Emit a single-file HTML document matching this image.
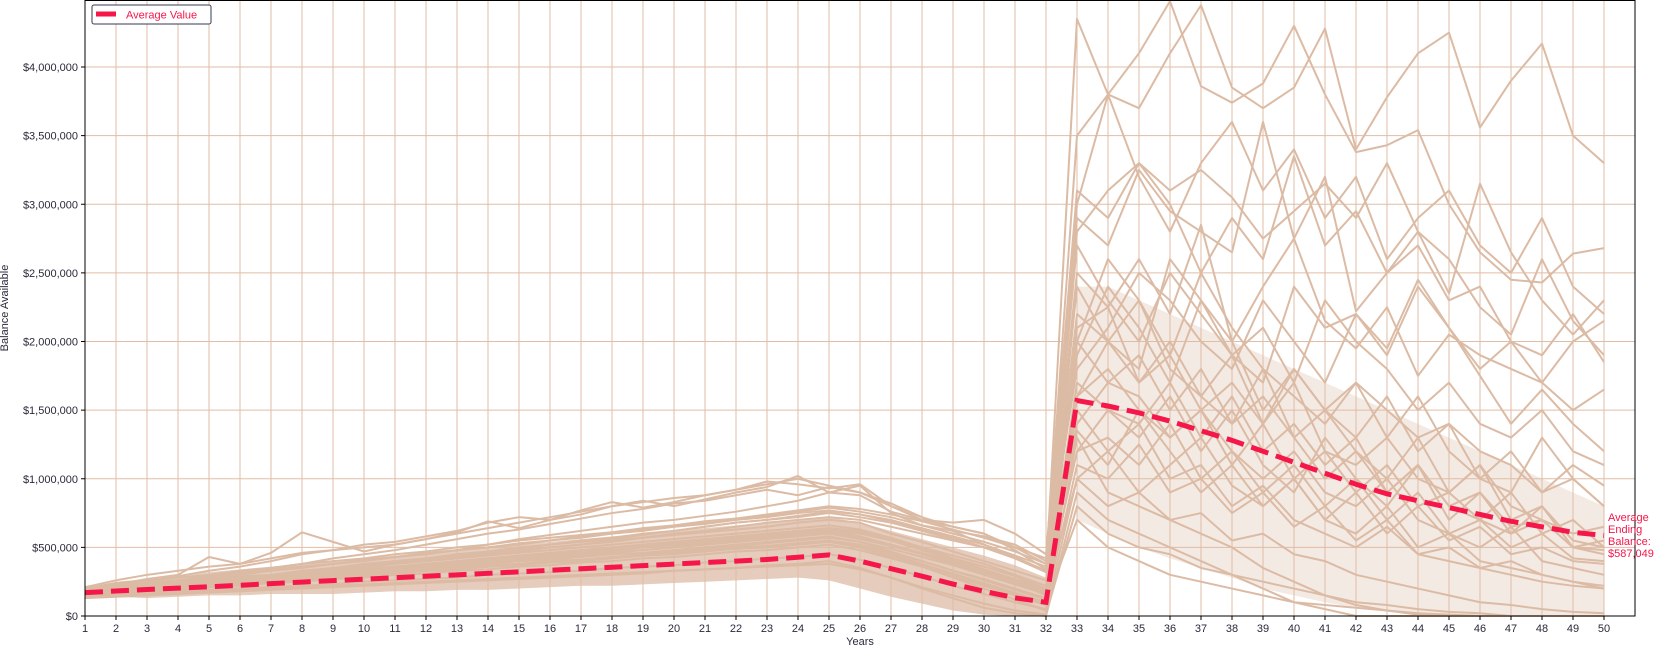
<!DOCTYPE html>
<html><head><meta charset="utf-8"><style>
html,body{margin:0;padding:0;background:#fff;}
svg{display:block;font-family:"Liberation Sans","DejaVu Sans",sans-serif;}
</style></head><body>
<svg id="chart" width="1660" height="648" viewBox="0 0 1660 648" xmlns="http://www.w3.org/2000/svg">
<g id="grid"></g>
<g id="bands"></g>
<g id="sims"></g>
<g id="avg"></g>
<g id="axes"></g>
<text x="8" y="308" font-size="11" fill="#2a2a3a" text-anchor="middle" transform="rotate(-90 8 308)">Balance Available</text>
<text x="860" y="645" font-size="11" fill="#2a2a3a" text-anchor="middle">Years</text>
<g>
<rect x="92" y="5" width="119" height="19" rx="2" fill="#fff" stroke="#3a3a50" stroke-width="1"/>
<line x1="96" y1="14" x2="116" y2="14" stroke="#f5164a" stroke-width="5"/>
<text x="126" y="18.5" font-size="11" fill="#f5164a">Average Value</text>
</g>
<g font-size="11" fill="#f5164a">
<text x="1608" y="521">Average</text><text x="1608" y="533">Ending</text><text x="1608" y="545">Balance:</text><text id="endlbl" x="1608" y="557">$587,049</text>
</g>
</svg>
<script>
const years=[];for(let i=1;i<=50;i++)years.push(i);
const yTicks=[0,500000,1000000,1500000,2000000,2500000,3000000,3500000,4000000];
const avgValues=[170,182,193,203,213,224,236,247,258,268,279,290,300,311,322,333,344,355,367,378,390,400,412,428,445,400,345,290,233,180,132,100,1570,1530,1480,1420,1350,1280,1200,1120,1040,960,890,840,790,740,690,650,610,587];
const bandLowP1=[140,140,130,140,150,150,160,160,160,170,180,180,190,190,200,210,220,220,230,240,250,260,270,280,260,200,140,90,40,10,0,0];
const bandHighP1=[210,250,270,300,320,340,360,380,400,420,440,460,480,500,520,540,560,580,600,620,640,660,680,700,720,680,620,560,500,440,370,280];
const bandLowP2=[700,600,500,420,350,280,200,150,100,60,40,20,10,0,0,0,0,0];
const bandHighP2=[2400,2400,2300,2200,2100,2000,1900,1800,1700,1600,1500,1400,1300,1200,1100,1000,900,800];
const sims=[
[210,260,300,330,360,380,420,460,480,500,520,560,600,640,680,720,760,800,830,860,880,920,960,1000,950,900,820,720,620,520,420,320,4350,3800,3700,4100,4450,3850,3700,3850,4280,3400,3780,4100,4250,3560,3900,4170,3500,3300],
[190,230,270,300,430,380,460,610,540,470,520,560,610,690,640,700,770,830,790,830,880,920,980,960,930,960,800,700,650,600,480,340,3500,3800,4100,4480,3860,3740,3880,4300,3800,3380,3430,3540,3000,2650,2450,2430,2640,2680],
[170,200,240,260,280,310,330,360,380,400,430,460,480,520,560,590,620,650,680,700,730,760,800,840,900,950,750,660,620,580,520,400,3100,2900,3300,3100,3250,3050,2750,2950,3150,2900,3300,2800,2350,3150,2650,2300,2050,2300],
[150,180,200,220,250,270,300,320,340,360,390,410,430,460,490,520,540,560,590,620,650,680,700,730,760,740,700,640,580,520,440,360,2900,2700,3250,2950,2800,2650,3600,2750,3200,2220,2500,2800,2600,2250,2050,2600,2150,1900],
[160,190,210,230,250,270,290,310,330,350,380,400,420,450,470,500,520,550,570,600,620,650,680,700,720,700,650,600,550,500,430,330,2500,2250,2600,2200,2850,2000,2400,2750,2150,1950,2250,1750,2050,1900,1800,1700,2000,2150],
[180,200,220,240,260,280,300,330,350,380,400,420,440,460,480,500,520,540,570,590,610,630,650,680,700,680,600,540,470,400,330,260,2200,2000,1800,2600,2300,1900,1700,2400,2100,2200,1950,2450,2100,1750,1400,1650,1400,1200],
[140,160,180,200,210,230,250,270,290,300,320,340,360,380,400,420,440,460,480,500,520,540,560,590,620,600,560,500,440,380,300,220,1900,2400,2100,1700,2300,2000,1500,1800,1500,1700,1300,1600,1200,1000,900,1300,1000,800],
[200,210,230,250,270,290,300,310,330,340,360,380,400,420,440,460,480,500,520,540,560,580,600,620,640,620,560,480,420,360,290,200,1700,1500,1300,1600,1200,1500,1100,900,1300,1000,800,1100,700,900,600,700,500,550],
[170,190,200,220,230,250,260,280,290,310,320,340,350,370,380,400,410,430,440,460,480,500,510,530,550,520,460,400,330,270,200,130,1500,1200,1400,1000,1100,800,950,700,600,500,650,450,400,350,300,250,220,200],
[150,160,170,180,190,200,210,220,230,250,260,270,280,300,310,320,330,350,360,370,390,400,420,430,450,410,350,290,220,160,100,50,1300,900,800,700,600,500,350,250,150,80,40,10,0,0,0,0,0,0],
[130,140,150,160,170,180,190,200,210,220,230,240,250,260,270,280,290,300,310,330,340,350,370,380,400,350,280,200,130,60,20,0,900,700,600,500,400,300,200,100,50,0,0,0,0,0,0,0,0,0],
[190,220,240,260,290,310,340,360,380,410,430,450,480,500,530,550,580,600,630,650,680,700,730,760,790,760,720,660,600,540,470,380,2000,2600,2300,1900,2500,2100,1800,1600,1400,1700,1500,1300,1400,1200,1100,900,1000,800],
[160,170,190,200,220,230,250,260,280,290,310,330,340,360,380,390,410,430,450,470,490,510,530,550,570,540,490,430,370,300,230,160,1200,1500,1400,1700,1300,1600,1200,1400,1100,1300,900,1100,800,700,900,600,700,500],
[150,170,190,210,230,240,260,280,300,320,340,360,380,400,420,440,460,480,500,520,540,560,580,600,620,580,520,450,380,310,240,170,1000,1200,900,1100,1300,950,800,1000,700,600,800,500,600,400,350,300,250,200],
[140,150,160,170,180,190,200,210,220,230,240,250,260,270,280,290,300,310,320,330,340,350,360,370,380,340,280,210,150,90,40,10,800,600,500,450,350,300,250,200,150,100,80,50,30,20,0,0,0,0],
[170,190,210,220,240,260,270,290,310,320,340,360,380,390,410,430,450,470,480,500,520,540,560,580,600,560,510,450,390,320,260,190,2400,2000,2300,1800,1600,1900,1400,1700,1200,1100,1300,1000,900,1100,800,700,600,650],
[180,200,210,230,240,260,270,290,300,320,330,350,370,380,400,410,430,450,460,480,500,520,540,560,580,540,470,400,330,260,190,120,1600,1800,1500,1300,1500,1200,1000,1200,900,800,1000,700,600,500,650,400,350,300],
[200,230,250,280,300,330,350,380,400,420,450,470,500,520,550,570,590,610,640,660,690,710,740,770,800,780,740,690,630,570,500,420,2800,3100,3300,3000,2500,2900,2600,3350,2700,2950,2500,2700,2300,2400,2000,1900,2200,1850],
[160,180,190,210,220,240,250,270,280,300,310,330,340,360,370,390,400,420,440,450,470,490,500,520,540,500,440,370,300,230,160,90,1100,1000,1250,900,1000,750,900,650,800,550,700,450,500,350,400,300,250,220],
[150,170,180,200,210,220,240,250,270,280,300,310,330,340,360,370,390,400,420,430,450,470,480,500,520,480,420,360,290,220,150,80,2100,2250,1700,2000,1600,1400,1800,1300,1500,1200,1000,1300,900,1100,700,800,550,500],
[190,210,220,240,260,270,290,300,320,340,350,370,390,400,420,440,460,480,500,510,530,550,570,590,610,570,520,460,400,340,270,200,1350,1100,1500,1200,900,1100,800,1000,700,900,600,800,550,650,450,500,400,380],
[170,180,200,210,230,240,260,270,290,300,320,330,350,360,380,400,410,430,440,460,480,490,510,530,550,510,450,380,310,240,170,100,700,500,400,300,250,200,150,100,80,60,40,20,10,0,0,0,0,0],
[200,240,260,290,330,360,400,450,480,520,540,580,620,680,720,700,740,800,840,800,850,900,940,1020,900,880,760,700,680,700,600,450,3000,3800,3200,2800,3300,3600,3100,3400,2900,3200,2600,2900,3100,2700,2500,2900,2400,2200],
[180,210,240,260,290,320,350,380,420,450,480,520,560,600,630,670,710,750,780,820,840,880,920,880,940,900,800,720,650,600,500,380,1800,2100,2500,2300,2000,1800,2300,2000,1700,2200,1900,2400,2100,1800,2000,1700,1500,1650],
[170,190,210,230,250,270,290,320,350,370,400,420,450,470,500,520,550,570,600,620,650,680,700,720,750,720,680,620,560,500,420,320,1600,2000,1700,1900,1500,1700,1400,1800,1500,1300,1600,1200,1400,1000,1200,900,1100,950],
[150,170,190,210,230,250,270,290,310,330,350,370,390,410,430,450,470,490,510,530,550,570,590,610,630,600,550,480,410,330,250,160,1400,1700,1600,1300,1500,1100,1400,1000,1200,900,1100,800,900,700,600,800,500,450],
[160,180,200,220,240,260,280,300,320,340,360,380,400,420,440,460,480,500,520,540,560,580,600,620,640,610,560,490,420,340,260,180,1200,1300,1100,1400,1000,1200,900,1100,800,1000,700,900,600,700,500,600,420,400],
[180,200,220,240,260,280,300,320,340,360,380,400,420,440,460,480,500,520,540,560,580,600,620,640,660,630,570,500,420,340,250,150,2000,1700,1900,1500,1800,1400,1600,1300,1000,1200,900,1100,800,900,650,700,500,480],
[140,160,180,190,210,230,240,260,280,290,310,330,340,360,380,390,410,430,440,460,480,490,510,530,550,500,430,360,280,200,120,40,1000,800,900,700,750,550,600,450,400,300,250,200,150,100,80,50,30,20],
[170,200,230,250,280,300,330,350,380,400,430,450,480,500,520,550,570,600,620,650,670,700,720,750,770,740,690,630,570,500,420,330,2700,2300,2000,2500,2200,1900,2100,1700,2300,2000,1800,1500,1700,1400,1300,1500,1200,1100]
];
const NS="http://www.w3.org/2000/svg";
const L=85,R=1635,T=0,B=616;
const x=yr=>85+(yr-1)*31.0;
const y=v=>B-v*137.25/1e6;
function mk(tag,attrs,parent){const e=document.createElementNS(NS,tag);for(const k in attrs)e.setAttribute(k,attrs[k]);parent.appendChild(e);return e;}
const grid=document.getElementById('grid'),axes=document.getElementById('axes');
years.forEach(yr=>{
  const g=mk('line',{x1:x(yr),x2:x(yr),y1:T,y2:B,stroke:'#e2bda5','stroke-width':1},grid);
  
  
  const t=mk('text',{x:x(yr),y:632,'font-size':11,fill:'#2a2a3a','text-anchor':'middle'},axes);
  t.textContent=yr;
  
  
  mk('line',{x1:x(yr),x2:x(yr),y1:B,y2:B+4,stroke:'#000'},axes);
});
yTicks.forEach(v=>{
  const g=mk('line',{x1:L,x2:R,y1:y(v),y2:y(v),stroke:'#e2bda5','stroke-width':1},grid);
  
  
  const t=mk('text',{x:78,y:y(v)+4,'font-size':11,fill:'#2a2a3a','text-anchor':'end'},axes);
  t.textContent='$'+v.toLocaleString('en-US');
  
  
  mk('line',{x1:L-4,x2:L,y1:y(v),y2:y(v),stroke:'#000'},axes);
});
const fr=mk('rect',{x:L,y:T+0.5,width:R-L,height:B-T-0.5,fill:'none',stroke:'#000','stroke-width':1},axes);


const bands=document.getElementById('bands');
function band(lo,hi,start,op,name){
  let d='';hi.forEach((v,i)=>{d+=(i?'L':'M')+x(years[start+i])+','+y(v*1000);});
  for(let i=lo.length-1;i>=0;i--)d+='L'+x(years[start+i])+','+y(lo[i]*1000);
  const bp=mk('path',{d:d+'Z',fill:'#dcbba5',opacity:op},bands);
  
  
}
band(bandLowP1,bandHighP1,0,0.75,'accumulation-density-band');
band(bandLowP2,bandHighP2,32,0.3,'withdrawal-density-band');
const simsG=document.getElementById('sims');
sims.forEach(s=>{
  const p=mk('polyline',{points:s.map((v,i)=>x(years[i])+','+y(v*1000)).join(' '),fill:'none',stroke:'#dcbba5','stroke-width':2,'stroke-linejoin':'round'},simsG);
  
  
});
const a=mk('polyline',{points:avgValues.map((v,i)=>x(years[i])+','+y(v*1000)).join(' '),fill:'none',stroke:'#f5164a','stroke-width':5,'stroke-dasharray':'18,8'},document.getElementById('avg'));


document.getElementById('endlbl').textContent='$'+(avgValues[avgValues.length-1]*1000+49).toLocaleString('en-US');
</script>
</body></html>
